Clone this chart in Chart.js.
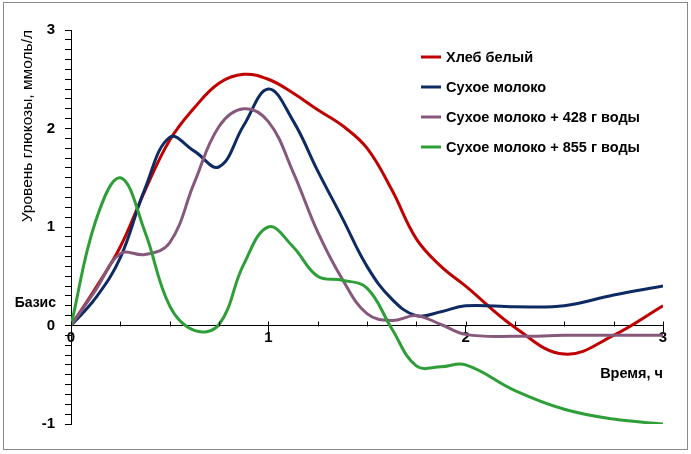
<!DOCTYPE html>
<html>
<head>
<meta charset="utf-8">
<script src="https://cdn.jsdelivr.net/npm/chart.js@4/dist/chart.umd.min.js"></script>
<style>
html,body{margin:0;padding:0;background:#fff;overflow:hidden;}
canvas{display:block;}
</style>
</head>
<body>
<canvas id="c" width="691" height="454"></canvas>
<script>
// Time, hours
const timeH = [0,0.125,0.25,0.375,0.5,0.625,0.75,0.875,1,1.125,1.25,1.375,1.5,1.625,1.75,1.875,2,2.25,2.5,2.75,3];
// Glucose level above basal, mmol/l
const breadWhite   = [0,0.38,0.80,1.37,1.88,2.21,2.46,2.55,2.50,2.36,2.19,2.03,1.80,1.38,0.88,0.60,0.40,-0.02,-0.29,-0.10,0.20];
const milkPowder   = [0,0.28,0.69,1.39,1.91,1.77,1.61,2.03,2.40,2.08,1.57,1.09,0.60,0.27,0.10,0.14,0.20,0.19,0.20,0.31,0.40];
const milkWater428 = [0,0.36,0.73,0.72,0.84,1.45,2.02,2.20,2.07,1.56,0.95,0.47,0.12,0.05,0.10,0.01,-0.09,-0.11,-0.10,-0.10,-0.10];
const milkWater855 = [0,1.06,1.50,0.95,0.20,-0.05,0.01,0.62,1.00,0.80,0.50,0.46,0.38,-0.03,-0.41,-0.42,-0.40,-0.66,-0.85,-0.95,-1.00];
const seriesNames = ["Хлеб белый","Сухое молоко","Сухое молоко + 428 г воды","Сухое молоко + 855 г воды"];
const yTitle = "Уровень глюкозы, ммоль/л";
const xTitle = "Время, ч";
const basisLabel = "Базис";
const xMinorTicks = [0,0.25,0.5,0.75,1,1.25,1.5,1.75,2,2.25,2.5,2.75,3];

const colors = ["#C00000","#0E2A63","#86597C","#2E9E38"];
const FONT = "'Liberation Sans', Arial, sans-serif";

function pts(vals){ return vals.map((v,i)=>({x:timeH[i], y:v})); }
const allSeries = [breadWhite, milkPowder, milkWater428, milkWater855];

const decor = {
  id: 'decor',
  beforeDraw(chart){
    const ctx = chart.ctx;
    ctx.save();
    ctx.fillStyle = '#fff';
    ctx.fillRect(0,0,chart.width,chart.height);
    ctx.restore();
  },
  afterDraw(chart){
    const {ctx, scales:{x, y}} = chart;
    ctx.save();
    // upward minor ticks on the x axis
    ctx.strokeStyle = '#000'; ctx.lineWidth = 1;
    const y0 = Math.round(y.getPixelForValue(0)) + 0.5;
    xMinorTicks.forEach(t => {
      const px = Math.round(x.getPixelForValue(t)) + 0.5;
      ctx.beginPath(); ctx.moveTo(px, y0 - 5); ctx.lineTo(px, y0); ctx.stroke();
    });
    // "Базис" label
    ctx.fillStyle = '#000';
    ctx.font = "bold 14px " + FONT;
    ctx.textAlign = 'right'; ctx.textBaseline = 'middle';
    ctx.fillText(basisLabel, x.getPixelForValue(0) - 15, y.getPixelForValue(0.23));
    // legend
    ctx.font = "bold 14.5px " + FONT;
    ctx.textAlign = 'left';
    chart.data.datasets.forEach((ds, i) => {
      const ly = 57 + i * 30;
      ctx.strokeStyle = ds.borderColor; ctx.lineWidth = 3;
      ctx.beginPath(); ctx.moveTo(421, ly); ctx.lineTo(441, ly); ctx.stroke();
      ctx.fillStyle = '#000';
      ctx.fillText(ds.label, 446, ly + 1);
    });
    // outer frame
    ctx.strokeStyle = '#8a8a8a'; ctx.lineWidth = 1;
    ctx.strokeRect(3.5, 2.5, 684, 447);
    ctx.restore();
  }
};

Chart.defaults.color = '#000';
Chart.defaults.font.family = FONT;

new Chart(document.getElementById('c'), {
  type: 'line',
  data: {
    datasets: allSeries.map((s, i) => ({
      label: seriesNames[i],
      data: pts(s),
      borderColor: colors[i],
      backgroundColor: colors[i],
      borderWidth: 3,
      pointRadius: 0,
      tension: 0.4,
      fill: false,
      order: 3 - i
    }))
  },
  options: {
    responsive: false,
    animation: false,
    layout: { padding: { left: 0, top: 30, right: 28, bottom: 30 } },
    plugins: { legend: { display: false }, tooltip: { enabled: false } },
    scales: {
      x: {
        type: 'linear',
        position: { y: 0 },
        min: 0, max: 3,
        border: { display: true, color: '#000', width: 1 },
        grid: {
          drawOnChartArea: false, drawTicks: true, tickLength: 6,
          tickColor: ctx => (ctx.tick && Number.isInteger(ctx.tick.value)) ? '#000' : 'rgba(0,0,0,0)'
        },
        ticks: {
          stepSize: 0.25, autoSkip: false, maxRotation: 0, padding: -3,
          font: { size: 15, weight: 'bold' },
          callback: v => Math.abs(v - Math.round(v)) < 1e-6 ? String(Math.round(v)) : ''
        },
        title: { display: true, text: xTitle, align: 'end', font: { size: 14.5, weight: 'bold' }, padding: { top: 22, bottom: 0 } }
      },
      y: {
        type: 'linear',
        position: 'left',
        min: -1, max: 3,
        border: { display: true, color: '#000', width: 1 },
        grid: { drawOnChartArea: false, drawTicks: true, tickLength: 6, tickColor: '#000' },
        ticks: {
          stepSize: 0.1, autoSkip: false, padding: 10,
          font: { size: 15, weight: 'bold' },
          callback: v => Math.abs(v - Math.round(v)) < 1e-6 ? String(Math.round(v)) : ''
        },
        title: { display: true, text: yTitle, align: 'end', font: { size: 15.5 }, padding: { top: 18, bottom: 0 } },
        afterFit: s => { s.width = 71; }
      }
    }
  },
  plugins: [decor]
});
</script>
</body>
</html>
